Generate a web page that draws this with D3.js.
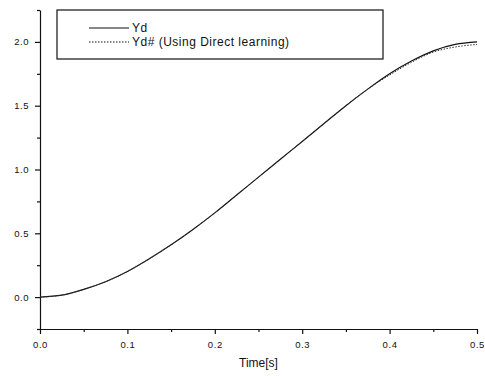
<!DOCTYPE html>
<html><head><meta charset="utf-8">
<script src="https://cdn.jsdelivr.net/npm/d3@7"></script>
<style>body{margin:0;background:#fff}svg{display:block}</style>
</head><body>
<script>
const time   = [0,0.025,0.05,0.075,0.1,0.125,0.15,0.175,0.2,0.225,0.25,0.275,0.3,0.325,0.35,0.375,0.4,0.425,0.45,0.475,0.5];
const yd     = [0,0.015,0.06,0.12,0.20,0.30,0.41,0.53,0.66,0.80,0.94,1.08,1.22,1.36,1.50,1.63,1.75,1.85,1.93,1.98,2.00];
const ydHash = [0,0.015,0.06,0.12,0.20,0.30,0.41,0.53,0.66,0.80,0.94,1.08,1.22,1.36,1.50,1.63,1.74,1.84,1.92,1.96,1.98];
const xTicks = [0,0.1,0.2,0.3,0.4,0.5];
const yTicks = [0,0.5,1.0,1.5,2.0];
const legendLabels = ["Yd","Yd# (Using Direct learning)"];

const W=485,H=376;
const svg=d3.select("body").append("svg").attr("width",W).attr("height",H);
const x=d3.scaleLinear().domain([0,0.5]).range([40,477]);
const y=d3.scaleLinear().domain([-0.25,2.25]).range([329,10]);
const font="Arial, 'Liberation Sans', sans-serif";

const xMinor=d3.range(0.05,0.5,0.1);
const yMinor=[-0.25,0.25,0.75,1.25,1.75,2.25];
svg.append("g").attr("transform","translate(0,329)")
  .call(d3.axisBottom(x).tickValues(xMinor).tickSize(3).tickFormat(""))
  .call(g=>g.select(".domain").remove());
svg.append("g").attr("transform","translate(40,0)")
  .call(d3.axisLeft(y).tickValues(yMinor).tickSize(3).tickFormat(""))
  .call(g=>g.select(".domain").remove());

const xa=svg.append("g").attr("transform","translate(0,329)")
  .call(d3.axisBottom(x).tickValues(xTicks).tickSize(5).tickSizeOuter(0).tickFormat(d3.format(".1f")));
xa.selectAll("text").attr("font-family",font).attr("font-size",9.5).attr("dy","1.2em").attr("letter-spacing","0.6").attr("fill","#111");
const ya=svg.append("g").attr("transform","translate(40,0)")
  .call(d3.axisLeft(y).tickValues(yTicks).tickSize(5).tickSizeOuter(0).tickFormat(d3.format(".1f")));
ya.selectAll("text").attr("font-family",font).attr("font-size",9.5).attr("dx","-0.3em").attr("letter-spacing","0.6").attr("fill","#111");
svg.selectAll(".domain,.tick line").attr("stroke","#111").attr("stroke-width",1.2);

svg.append("text").attr("x",(40+477)/2).attr("y",367).attr("text-anchor","middle")
  .attr("font-family",font).attr("font-size",12).attr("fill","#111").text("Time[s]");

const line=d3.line().x((d,i)=>x(time[i])).y(d=>y(d)).curve(d3.curveMonotoneX);
svg.append("path").datum(yd).attr("d",line).attr("fill","none").attr("stroke","#111").attr("stroke-width",1.2);
svg.append("path").datum(ydHash).attr("d",line).attr("fill","none").attr("stroke","#333").attr("stroke-width",1).attr("stroke-dasharray","1.5,1.5");

const lg=svg.append("g");
lg.append("rect").attr("x",57).attr("y",10).attr("width",326).attr("height",49)
  .attr("fill","#fff").attr("stroke","#111").attr("stroke-width",1.2);
const dashes=[null,"1.5,1.5"];
legendLabels.forEach((t,i)=>{
  const yy=28+i*14;
  lg.append("line").attr("x1",89).attr("x2",129).attr("y1",yy).attr("y2",yy)
    .attr("stroke","#111").attr("stroke-width",1).attr("stroke-dasharray",dashes[i]);
  lg.append("text").attr("x",132).attr("y",yy).attr("dy","0.35em")
    .attr("font-family",font).attr("font-size",12).attr("letter-spacing","0.5").attr("fill","#111").text(t);
});
</script>
</body></html>
